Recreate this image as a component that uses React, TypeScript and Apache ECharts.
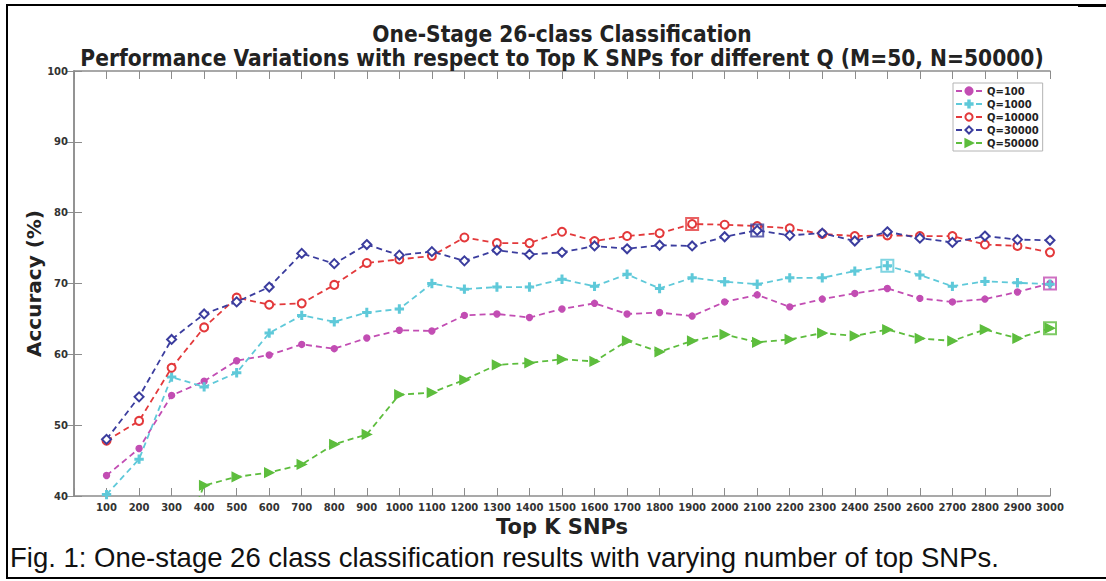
import React, { useEffect, useRef } from "react";
import * as echarts from "echarts";

const kValues = [100, 200, 300, 400, 500, 600, 700, 800, 900, 1000, 1100, 1200, 1300, 1400, 1500, 1600, 1700, 1800, 1900, 2000, 2100, 2200, 2300, 2400, 2500, 2600, 2700, 2800, 2900, 3000];

const q100 = [42.9, 46.7, 54.2, 56.2, 59.1, 59.9, 61.4, 60.8, 62.3, 63.4, 63.3, 65.5, 65.7, 65.2, 66.4, 67.2, 65.7, 65.9, 65.4, 67.4, 68.4, 66.7, 67.8, 68.6, 69.3, 67.9, 67.4, 67.8, 68.8, 70.0];
const q1000 = [40.2, 45.2, 56.8, 55.4, 57.4, 63.0, 65.5, 64.6, 65.9, 66.4, 70.0, 69.2, 69.5, 69.5, 70.6, 69.6, 71.3, 69.3, 70.8, 70.25, 69.9, 70.8, 70.8, 71.75, 72.5, 71.2, 69.6, 70.3, 70.1, 69.9];
const q10000 = [47.8, 50.6, 58.1, 63.8, 68.0, 67.0, 67.2, 69.8, 72.9, 73.4, 73.9, 76.5, 75.7, 75.7, 77.3, 76.0, 76.7, 77.1, 78.4, 78.3, 78.1, 77.8, 77.0, 76.7, 76.8, 76.7, 76.7, 75.5, 75.3, 74.4];
const q30000 = [48.0, 54.0, 62.1, 65.7, 67.4, 69.5, 74.25, 72.8, 75.5, 74.0, 74.5, 73.2, 74.7, 74.1, 74.4, 75.3, 74.9, 75.4, 75.3, 76.6, 77.5, 76.8, 77.1, 76.0, 77.3, 76.4, 75.8, 76.7, 76.2, 76.1];
const q50000 = [null, null, 30.0, 41.5, 42.7, 43.3, 44.45, 47.3, 48.7, 54.3, 54.6, 56.4, 58.5, 58.8, 59.3, 59.0, 61.9, 60.35, 61.9, 62.8, 61.7, 62.1, 63.0, 62.6, 63.5, 62.25, 61.9, 63.5, 62.25, 63.7];

const seriesNames = ["Q=100", "Q=1000", "Q=10000", "Q=30000", "Q=50000"];
const seriesColors = ["#c24db3", "#5fc9d9", "#e3393b", "#3b3d9e", "#5dbd3d"];

const titleLines = [
  "One-Stage 26-class Classification",
  "Performance Variations with respect to Top K SNPs for different Q (M=50, N=50000)",
];
const xAxisName = "Top K SNPs";
const yAxisName = "Accuracy (%)";
const caption = "Fig. 1: One-stage 26 class classification results with varying number of top SNPs.";

const PLUS = "path://M4,0h2v4h4v2h-4v4h-2v-4h-4v-2h4z";

export default function App() {
  const ref = useRef<HTMLDivElement>(null);

  useEffect(() => {
    const chart = echarts.init(ref.current!, null, { renderer: "svg" });
    const allData = [q100, q1000, q10000, q30000, q50000];
    const markers = [
      { symbol: "circle", size: 6, rotate: 0 },
      { symbol: PLUS, size: 8, rotate: 0 },
      { symbol: "emptyCircle", size: 8, rotate: 0 },
      { symbol: "emptyDiamond", size: 9, rotate: 0 },
      { symbol: "triangle", size: 9, rotate: -90 },
    ];
    const lineSeries = allData.map((d, i) => ({
      type: "line",
      name: seriesNames[i],
      data: kValues.map((k, j) => [k, d[j]]),
      symbol: markers[i].symbol,
      symbolSize: markers[i].size,
      symbolRotate: markers[i].rotate,
      showAllSymbol: true,
      connectNulls: false,
      clip: true,
      lineStyle: { color: seriesColors[i], width: 1.8, type: [6, 4] },
      itemStyle: { color: seriesColors[i], borderColor: seriesColors[i], borderWidth: 1.4 },
      z: 2 + i,
    }));
    const bestSeries = allData.map((d, i) => {
      let bi = 0;
      d.forEach((v, j) => {
        if (v !== null && (d[bi] === null || (v as number) > (d[bi] as number))) bi = j;
      });
      return {
        type: "scatter",
        name: "best-" + seriesNames[i],
        data: [[kValues[bi], d[bi]]],
        symbol: "rect",
        symbolSize: 12,
        itemStyle: { color: "rgba(0,0,0,0)", borderColor: seriesColors[i], borderWidth: 2 },
        z: 10,
        silent: true,
      };
    });

    const axisColor = "#8c8c8c";
    const labelFont = { fontFamily: "DejaVu Sans", fontWeight: "bold", color: "#333" };
    const titleFont = 'bold 22.5px "DejaVu Sans Condensed", "DejaVu Sans"';

    chart.setOption({
      animation: false,
      backgroundColor: "#fff",
      grid: { left: 74, right: 56, top: 71, bottom: 85 },
      xAxis: [
        {
          type: "value", min: 0, max: 3000, interval: 100, position: "bottom",
          axisLine: { lineStyle: { color: axisColor, width: 1.5 } },
          axisTick: { inside: true, length: 8, lineStyle: { color: axisColor, width: 1 } },
          axisLabel: { ...labelFont, fontSize: 10, margin: 6, formatter: (v: number) => (v === 0 ? "" : String(v)) },
          splitLine: { show: false },
          name: xAxisName, nameLocation: "middle", nameGap: 17,
          nameTextStyle: { fontFamily: "DejaVu Sans", fontWeight: "bold", fontSize: 21, color: "#222" },
        },
        {
          type: "value", min: 0, max: 3000, interval: 100, position: "top",
          axisLine: { lineStyle: { color: axisColor, width: 1.5 } },
          axisTick: { inside: true, length: 8, lineStyle: { color: axisColor, width: 1 } },
          axisLabel: { show: false }, splitLine: { show: false },
        },
      ],
      yAxis: [
        {
          type: "value", min: 40, max: 100, interval: 10, position: "left",
          axisLine: { show: true, lineStyle: { color: axisColor, width: 1.5 } },
          axisTick: { show: true, inside: true, length: 8, lineStyle: { color: axisColor, width: 1 } },
          axisLabel: { ...labelFont, fontSize: 10, margin: 6 },
          splitLine: { show: false },
          name: yAxisName, nameLocation: "middle", nameGap: 30, nameRotate: 90,
          nameMoveOverlap: false,
          nameTextStyle: { fontFamily: "DejaVu Sans", fontWeight: "bold", fontSize: 20, color: "#222" },
        },
        {
          type: "value", min: 40, max: 100, interval: 10, position: "right",
          axisLine: { show: true, lineStyle: { color: axisColor, width: 1.5 } },
          axisTick: { show: true, inside: true, length: 8, lineStyle: { color: axisColor, width: 1 } },
          axisLabel: { show: false }, splitLine: { show: false },
        },
      ],
      legend: {
        data: seriesNames,
        orient: "vertical",
        left: 953, top: 83,
        backgroundColor: "#fff",
        borderColor: "#b4b4b4", borderWidth: 1, borderRadius: 0,
        padding: [3, 4, 3, 2],
        itemGap: 3, itemWidth: 26, itemHeight: 9,
        textStyle: { fontFamily: "DejaVu Sans", fontWeight: "bold", fontSize: 10, color: "#222" },
        z: 20,
      },
      graphic: [
        { type: "text", x: 562, y: 34, z: 30, style: { text: titleLines[0], align: "center", verticalAlign: "middle", textAlign: "center", textVerticalAlign: "middle", font: titleFont, fill: "#222" } },
        { type: "text", x: 562, y: 58, z: 30, style: { text: titleLines[1], align: "center", verticalAlign: "middle", textAlign: "center", textVerticalAlign: "middle", font: titleFont, fill: "#222" } },
        { type: "text", x: 10, y: 557, z: 30, style: { text: caption, align: "left", verticalAlign: "middle", textAlign: "left", textVerticalAlign: "middle", font: '27.5px "Liberation Sans", Arial, sans-serif', fill: "#111" } },
        { type: "line", z: 30, shape: { x1: 7, y1: 4, x2: 7, y2: 579 }, style: { stroke: "#000", lineWidth: 2 } },
        { type: "line", z: 30, shape: { x1: 6, y1: 5, x2: 1080, y2: 5 }, style: { stroke: "#000", lineWidth: 2 } },
        { type: "line", z: 30, shape: { x1: 1078, y1: 5.5, x2: 1106, y2: 5.5 }, style: { stroke: "#000", lineWidth: 3 } },
        { type: "line", z: 30, shape: { x1: 6, y1: 578, x2: 1106, y2: 578 }, style: { stroke: "#000", lineWidth: 2 } },
      ],
      series: [...lineSeries, ...bestSeries],
    });
    return () => chart.dispose();
  }, []);

  return (
    <div
      ref={ref}
      style={{ position: "absolute", left: 0, top: 0, width: 1106, height: 581, background: "#fff" }}
    />
  );
}
